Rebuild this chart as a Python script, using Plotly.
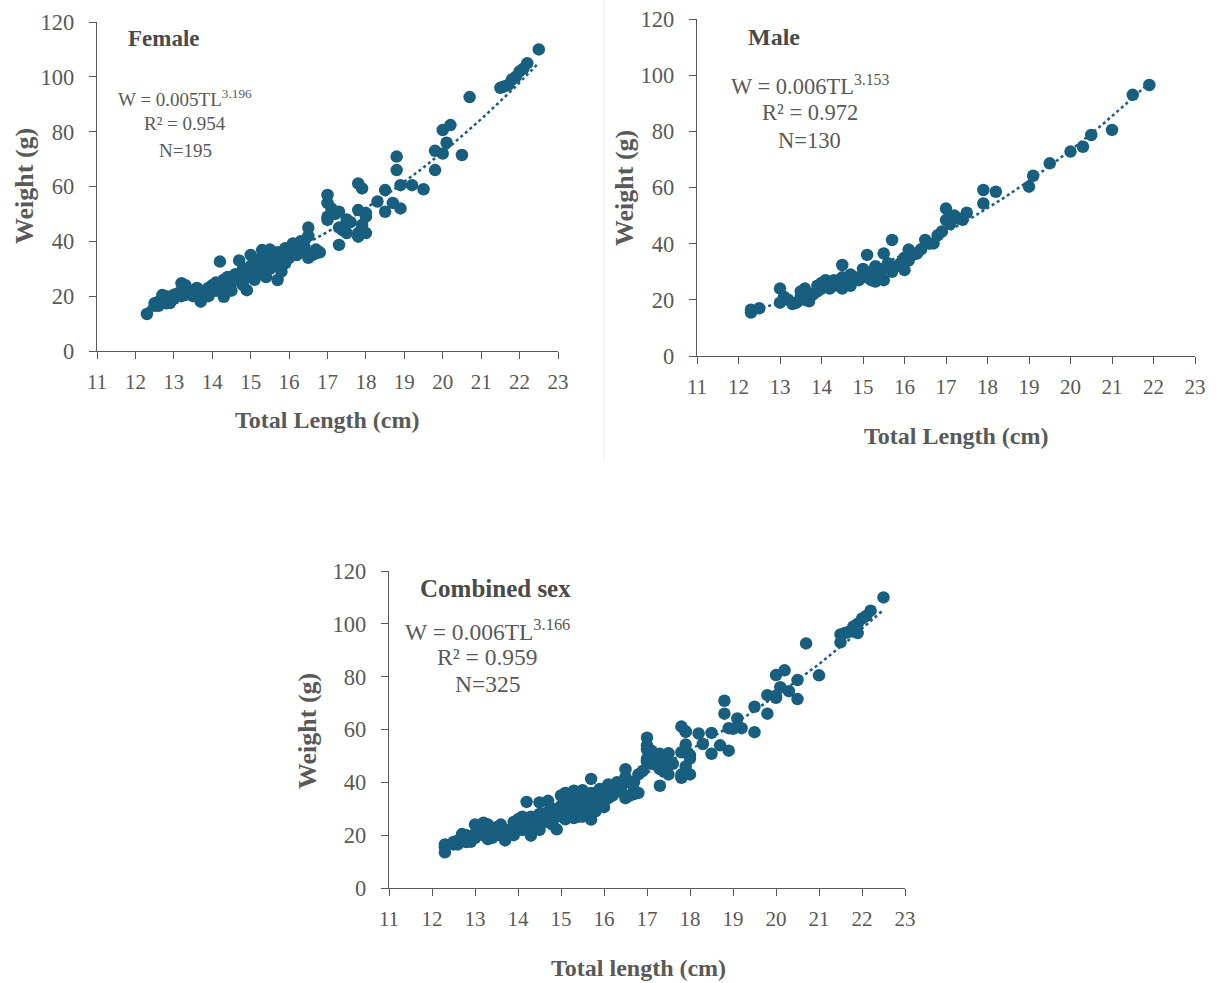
import numpy as np
import plotly.graph_objects as go

# ---------------- data ----------------
female_tl = [12.3, 12.5, 12.5, 12.6, 12.6, 12.7, 12.7, 12.8, 12.8, 12.9, 12.9, 13.0, 13.0, 13.1, 13.2, 13.2,
             13.2, 13.3, 13.3, 13.4, 13.5, 13.5, 13.6, 13.6, 13.7, 13.7, 13.8, 13.9, 13.9, 14.0, 14.0, 14.1,
             14.1, 14.2, 14.2, 14.3, 14.3, 14.4, 14.4, 14.5, 14.5, 14.6, 14.7, 14.7, 14.8, 14.8, 14.9, 14.9,
             15.0, 15.0, 15.0, 15.1, 15.1, 15.2, 15.2, 15.3, 15.3, 15.3, 15.4, 15.4, 15.5, 15.5, 15.5, 15.6,
             15.7, 15.7, 15.7, 15.8, 15.8, 15.9, 15.9, 16.0, 16.0, 16.1, 16.1, 16.2, 16.3, 16.3, 16.4, 16.5,
             16.5, 16.5, 16.6, 16.7, 16.7, 16.8, 17.0, 17.0, 17.0, 17.0, 17.1, 17.2, 17.3, 17.3, 17.3, 17.4,
             17.5, 17.5, 17.5, 17.6, 17.8, 17.8, 17.8, 17.8, 17.9, 17.9, 18.0, 18.0, 18.0, 18.3, 18.5, 18.5,
             18.7, 18.8, 18.8, 18.9, 18.9, 19.2, 19.5, 19.8, 19.8, 20.0, 20.0, 20.1, 20.2, 20.5, 20.7, 21.5,
             21.6, 21.7, 21.8, 21.9, 22.0, 22.1, 22.2, 22.5]
female_w = [13.5, 16.5, 17.4, 18.0, 16.5, 19.0, 20.4, 17.4, 20.0, 18.0, 17.5, 19.0, 20.5, 21.0, 20.0, 22.0,
            24.7, 24.0, 20.5, 21.0, 22.0, 20.0, 23.0, 21.0, 18.0, 22.0, 21.0, 23.0, 20.0, 22.0, 24.0, 25.0,
            22.0, 32.6, 23.0, 26.0, 19.8, 24.0, 27.0, 25.0, 22.0, 28.0, 33.0, 26.0, 24.0, 30.0, 27.0, 22.2,
            28.0, 35.0, 31.0, 30.0, 26.0, 33.0, 28.0, 36.8, 29.0, 34.0, 27.0, 32.0, 37.0, 30.0, 34.0, 31.0,
            25.9, 36.0, 33.0, 29.0, 35.0, 37.5, 32.0, 34.0, 36.0, 39.2, 38.0, 35.0, 40.0, 37.0, 38.0, 45.0,
            42.0, 34.0, 35.0, 35.6, 37.0, 36.0, 56.9, 54.0, 47.8, 49.0, 52.0, 50.0, 50.8, 38.7, 45.0, 44.0,
            43.0, 46.6, 48.0, 47.0, 61.1, 51.4, 41.7, 43.0, 59.3, 46.0, 50.3, 43.0, 49.0, 54.5, 58.7, 50.8,
            54.0, 70.9, 66.0, 60.5, 52.0, 60.5, 59.0, 73.0, 66.0, 80.6, 72.0, 76.0, 82.4, 71.5, 92.6, 96.0,
            96.5, 97.0, 99.0, 100.0, 102.0, 103.0, 105.0, 110.0]

male_tl = [12.3, 12.3, 12.5, 13.0, 13.0, 13.1, 13.2, 13.3, 13.4, 13.5, 13.5, 13.6, 13.6, 13.7, 13.7, 13.8,
           13.9, 13.9, 14.0, 14.0, 14.1, 14.1, 14.2, 14.2, 14.3, 14.3, 14.4, 14.5, 14.5, 14.5, 14.6, 14.7,
           14.7, 14.8, 14.9, 15.0, 15.0, 15.1, 15.1, 15.2, 15.2, 15.3, 15.3, 15.4, 15.5, 15.5, 15.5, 15.6,
           15.7, 15.7, 15.8, 15.9, 16.0, 16.0, 16.1, 16.1, 16.2, 16.3, 16.4, 16.5, 16.6, 16.7, 16.8, 16.9,
           17.0, 17.0, 17.1, 17.2, 17.3, 17.4, 17.5, 17.9, 17.9, 18.2, 19.0, 19.1, 19.5, 20.0, 20.3, 20.5,
           21.0, 21.5, 21.9]
male_w = [15.5, 16.5, 17.0, 24.0, 19.0, 21.0, 20.0, 18.5, 19.0, 21.0, 23.0, 24.0, 20.0, 19.5, 22.0, 22.0,
          25.0, 23.0, 26.0, 24.0, 27.0, 25.0, 24.0, 26.0, 25.0, 27.0, 26.0, 32.4, 28.0, 24.0, 27.0, 25.0,
          29.0, 28.0, 27.0, 29.0, 31.0, 28.0, 36.0, 30.0, 27.0, 26.5, 32.0, 29.0, 36.5, 31.0, 27.0, 33.0,
          41.3, 30.0, 32.0, 33.0, 30.6, 35.0, 37.9, 34.0, 36.0, 36.5, 38.0, 41.3, 40.0, 40.1, 43.0, 44.3,
          52.5, 48.4, 47.0, 50.0, 49.0, 48.5, 51.0, 59.1, 54.3, 58.5, 60.3, 64.2, 68.6, 72.8, 74.5, 78.7,
          80.5, 93.0, 96.5]

combined_tl = female_tl + male_tl
combined_w = female_w + male_w

# reported length-weight relationships W = a * TL^b (as printed on the chart)
fits = {
    "Female": (0.005, 3.196, 0.954, 195),
    "Male": (0.006, 3.153, 0.972, 130),
    "Combined sex": (0.006, 3.166, 0.959, 325),
}

x_ticks = list(range(11, 24))
y_ticks = list(range(0, 121, 20))

# ---------------- layout helpers ----------------
W, H = 1216, 983
def px(x):
    return x / W
def py(y):
    return 1 - y / H

COLOR = "#175e7f"
AXIS_COLOR = "#595959"
TXT = "#595959"
TITLE = "#4a4a4a"
SERIF = "Liberation Serif, Times New Roman, serif"

panels = [
    dict(name="Female", tl=female_tl, w=female_w, xr=(97, 558), yr=(22, 351),
         xtitle="Total Length (cm)", lab=(126, 39), labsize=23, eqx=185, eqy=(98, 124, 150), eqsize=19,
         xtx=327, xty=420, xtsize=24, ytx=24, yty=186, ytsize=26),
    dict(name="Male", tl=male_tl, w=male_w, xr=(697, 1195), yr=(19, 356),
         xtitle="Total Length (cm)", lab=(746, 37), labsize=24, eqx=810, eqy=(85, 113, 141), eqsize=22.5,
         xtx=956, xty=436, xtsize=24, ytx=624, yty=188, ytsize=26),
    dict(name="Combined sex", tl=combined_tl, w=combined_w, xr=(389, 905), yr=(571, 888),
         xtitle="Total length (cm)", lab=(418, 588), labsize=25, eqx=487, eqy=(630, 657, 684), eqsize=23.5,
         xtx=638, xty=968, xtsize=24, ytx=307, yty=731, ytsize=26),
]

fig = go.Figure()
annotations = []
layout_axes = {}

for i, p in enumerate(panels, start=1):
    xa = "x" if i == 1 else f"x{i}"
    ya = "y" if i == 1 else f"y{i}"
    a, b, r2, n = fits[p["name"]]
    tl = np.array(p["tl"], dtype=float)
    w = np.array(p["w"], dtype=float)
    fig.add_trace(go.Scatter(
        x=tl, y=w, mode="markers", xaxis=xa, yaxis=ya,
        marker=dict(size=12.5, color=COLOR, line=dict(width=0)), showlegend=False))
    # power trendline (log-log least squares, like a spreadsheet power trendline)
    bb, la = np.polyfit(np.log(tl), np.log(w), 1)
    xs = np.linspace(tl.min(), tl.max(), 150)
    fig.add_trace(go.Scatter(
        x=xs, y=np.exp(la) * xs ** bb, mode="lines", xaxis=xa, yaxis=ya,
        line=dict(color=COLOR, width=2.5, dash="dot"), showlegend=False))

    xkey = "xaxis" if i == 1 else f"xaxis{i}"
    ykey = "yaxis" if i == 1 else f"yaxis{i}"
    layout_axes[xkey] = dict(
        domain=[px(p["xr"][0]), px(p["xr"][1])], anchor=ya, range=[11, 23], automargin=False,
        tickvals=x_ticks, ticks="outside", ticklen=7, tickwidth=1.3, tickcolor=AXIS_COLOR,
        showline=True, linecolor=AXIS_COLOR, linewidth=1.3, showgrid=False, zeroline=False,
        tickfont=dict(family=SERIF, size=21, color=TXT), ticklabelstandoff=5)
    layout_axes[ykey] = dict(
        domain=[py(p["yr"][1]), py(p["yr"][0])], anchor=xa, range=[0, 120], automargin=False,
        tickvals=y_ticks, ticks="outside", ticklen=7, tickwidth=1.3, tickcolor=AXIS_COLOR,
        showline=True, linecolor=AXIS_COLOR, linewidth=1.3, showgrid=False, zeroline=False,
        tickfont=dict(family=SERIF, size=22.5, color=TXT), ticklabelstandoff=10)

    annotations.append(dict(text=f"<b>{p['name']}</b>", x=px(p["lab"][0]), y=py(p["lab"][1]),
                            xref="paper", yref="paper", xanchor="left", yanchor="middle",
                            showarrow=False, font=dict(family=SERIF, size=p["labsize"], color=TITLE)))
    eq_lines = [f"W = {a:.3f}TL<sup>{b:.3f}</sup>", f"R² = {r2:.3f}", f"N={n}"]
    for txt, yy in zip(eq_lines, p["eqy"]):
        annotations.append(dict(text=txt, x=px(p["eqx"]), y=py(yy), xref="paper", yref="paper",
                                xanchor="center", yanchor="middle", showarrow=False,
                                font=dict(family=SERIF, size=p["eqsize"], color=TXT)))
    annotations.append(dict(text=f"<b>{p['xtitle']}</b>", x=px(p["xtx"]),
                            y=py(p["xty"]), xref="paper", yref="paper", xanchor="center",
                            yanchor="middle", showarrow=False,
                            font=dict(family=SERIF, size=p["xtsize"], color=TXT)))
    annotations.append(dict(text="<b>Weight (g)</b>", x=px(p["ytx"]),
                            y=py(p["yty"]), xref="paper", yref="paper",
                            xanchor="center", yanchor="middle", showarrow=False, textangle=-90,
                            font=dict(family=SERIF, size=p["ytsize"], color=TXT)))

fig.update_layout(
    template="none",
    width=W, height=H, margin=dict(l=0, r=0, t=0, b=0, pad=0, autoexpand=False),
    paper_bgcolor="white", plot_bgcolor="white",
    annotations=annotations,
    shapes=[dict(type="line", xref="paper", yref="paper", x0=px(604), x1=px(604),
                 y0=py(0), y1=py(462), line=dict(color="#eeeeee", width=1))],
    **layout_axes)

fig.write_html("out.html", config={"displayModeBar": False},
               post_script="document.body.style.margin='0px';document.body.style.overflow='hidden';")
